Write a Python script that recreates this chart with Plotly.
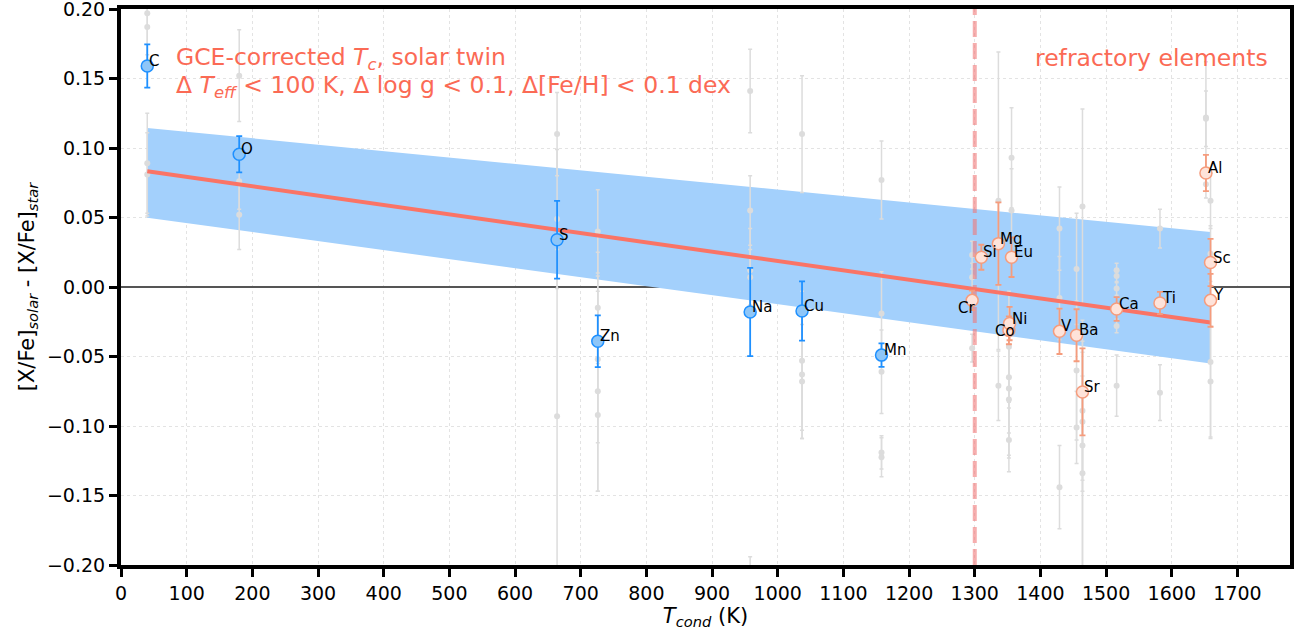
import plotly.graph_objects as go

# ---------------- data ----------------
volatile_el = ["C", "O", "S", "Zn", "Na", "Cu", "Mn"]
volatile_tc = [40, 180, 664, 726, 958, 1037, 1158]
volatile_val = [0.159, 0.0955, 0.034, -0.039, -0.018, -0.0173, -0.049]
volatile_err = [0.0155, 0.013, 0.028, 0.0186, 0.0317, 0.0213, 0.0085]

refr_el = ["Cr", "Si", "Mg", "Eu", "Co", "Ni", "V", "Ba", "Sr", "Ca", "Ti", "Al", "Sc", "Y"]
refr_tc = [1296, 1310, 1336, 1356, 1352, 1353, 1429, 1455, 1464, 1516, 1582, 1652, 1659, 1659]
refr_val = [-0.0096, 0.0214, 0.0312, 0.0214, -0.0312, -0.0263, -0.0319, -0.0347, -0.0755,
            -0.0158, -0.0115, 0.082, 0.0176, -0.0096]
refr_err = [0.007, 0.009, 0.0297, 0.0142, 0.010, 0.012, 0.0163, 0.0187, 0.0313,
            0.0085, 0.008, 0.013, 0.017, 0.019]

# other solar-twin comparison stars (grey background points)
gray_tc = [40, 40, 40, 40,
           180, 180, 180,
           664, 664, 664,
           726, 726, 726, 726, 726,
           958, 958, 958, 958, 958,
           1037, 1037, 1037, 1037,
           1158, 1158, 1158, 1158, 1158,
           1296, 1296, 1296,
           1336, 1336,
           1356, 1356,
           1352, 1352, 1352, 1352, 1352,
           1429, 1429, 1429,
           1455, 1455, 1455,
           1464, 1464, 1464, 1464, 1464,
           1516, 1516, 1516, 1516, 1516,
           1582, 1582,
           1652, 1652, 1652,
           1659, 1659, 1659, 1659]
gray_val = [0.197, 0.187, 0.089, 0.081,
            0.152, 0.076, 0.052,
            0.110, 0.049, -0.093,
            0.040, -0.015, -0.052, -0.075, -0.092,
            0.141, 0.055, 0.012, 0.007, -0.230,
            0.110, -0.053, -0.063, -0.068,
            0.077, -0.019, -0.061, -0.119, -0.1225,
            0.023, 0.007, -0.044,
            0.062, -0.071,
            0.093, 0.055,
            -0.043, -0.065, -0.073, -0.081, -0.110,
            0.042, -0.008, -0.144,
            0.013, -0.060, -0.101,
            0.058, -0.089, -0.097, -0.114, -0.134,
            0.012, 0.008, -0.001, -0.028, -0.071,
            0.042, -0.076,
            0.122, 0.121, 0.074,
            0.062, 0.024, -0.054, -0.068]
gray_err = [0.03, 0.03, 0.036, 0.03,
            0.033, 0.02, 0.025,
            0.03, 0.05, 0.12,
            0.03, 0.04, 0.06, 0.072, 0.055,
            0.03, 0.025, 0.03, 0.02, 0.036,
            0.042, 0.05, 0.046, 0.041,
            0.028, 0.03, 0.03, 0.012, 0.014,
            0.01, 0.01, 0.01,
            0.107, 0.025,
            0.036, 0.03,
            0.04, 0.04, 0.05, 0.04, 0.023,
            0.03, 0.03, 0.03,
            0.04, 0.05, 0.026,
            0.07, 0.05, 0.05, 0.09, 0.07,
            0.005, 0.005, 0.005, 0.005, 0.022,
            0.014, 0.02,
            0.04, 0.02, 0.01,
            0.02, 0.02, 0.055, 0.04]

# linear fit and its uncertainty band (end points)
fit_tc = [40, 1659]
fit_val = [0.0832, -0.0256]
band_upper = [0.1144, 0.0396]
band_lower = [0.0499, -0.0551]

refractory_threshold = 1300
x_range = [0, 1780]
y_range = [-0.2, 0.2]
x_ticks = list(range(0, 1800, 100))
y_ticks = [-0.20, -0.15, -0.10, -0.05, 0.00, 0.05, 0.10, 0.15, 0.20]

FONT = "DejaVu Sans"
TOMATO = "#fb6a55"
BLUE = "#1e90ff"
SALMON = "#f59c7d"

fig = go.Figure()

# uncertainty band
fig.add_trace(go.Scatter(
    x=fit_tc + fit_tc[::-1], y=band_upper + band_lower[::-1],
    fill="toself", fillcolor="rgb(163,208,252)", line=dict(width=0),
    mode="lines", hoverinfo="skip", showlegend=False))

# grey comparison points
fig.add_trace(go.Scatter(
    x=gray_tc, y=gray_val, mode="markers",
    marker=dict(size=6, color="#dcdcdc"),
    error_y=dict(type="data", array=gray_err, color="#dcdcdc", thickness=1.5, width=2),
    showlegend=False))

# refractory boundary
fig.add_trace(go.Scatter(
    x=[refractory_threshold, refractory_threshold], y=y_range, mode="lines",
    line=dict(color="rgba(240,120,120,0.6)", width=4, dash="16px,6px"),
    showlegend=False))

# fit line
fig.add_trace(go.Scatter(
    x=fit_tc, y=fit_val, mode="lines",
    line=dict(color="#fa7466", width=4), showlegend=False))

# volatile points
fig.add_trace(go.Scatter(
    x=volatile_tc, y=volatile_val, mode="markers",
    marker=dict(size=12, color="#8ec6f8", line=dict(color=BLUE, width=1.5)),
    error_y=dict(type="data", array=volatile_err, color=BLUE, thickness=1.8, width=3),
    showlegend=False))

# refractory points
fig.add_trace(go.Scatter(
    x=refr_tc, y=refr_val, mode="markers",
    marker=dict(size=12, color="#fee3da", line=dict(color=SALMON, width=1.5)),
    error_y=dict(type="data", array=refr_err, color=SALMON, thickness=1.8, width=3),
    showlegend=False))

annotations = []
special = {"Cr": ("right", 5, -8), "Co": ("right", 8, -1)}
for el, tc, v in list(zip(volatile_el, volatile_tc, volatile_val)) + list(zip(refr_el, refr_tc, refr_val)):
    xa, xs, ys = special.get(el, ("left", 0, 5))
    annotations.append(dict(x=tc, y=v, text=el, showarrow=False, xanchor=xa, yanchor="middle",
                            xshift=xs, yshift=ys, font=dict(family=FONT, size=15, color="black")))

annotations.append(dict(x=81, y=0.1645, xref="x", yref="y", showarrow=False, xanchor="left", yanchor="middle",
                        text="GCE-corrected <i>T</i><sub><i>c</i></sub>, solar twin",
                        font=dict(family=FONT, size=23.5, color=TOMATO)))
annotations.append(dict(x=81, y=0.1445, xref="x", yref="y", showarrow=False, xanchor="left", yanchor="middle",
                        text="Δ <i>T</i><sub><i>eff</i></sub> &lt; 100 K, Δ log g &lt; 0.1, Δ[Fe/H] &lt; 0.1 dex",
                        font=dict(family=FONT, size=23.5, color=TOMATO)))
annotations.append(dict(x=1750, y=0.1645, xref="x", yref="y", showarrow=False, xanchor="right", yanchor="middle",
                        text="refractory elements",
                        font=dict(family=FONT, size=23.5, color=TOMATO)))

axis_common = dict(showline=True, mirror=True, linecolor="black", linewidth=4,
                   ticks="outside", ticklen=8, tickwidth=3, tickcolor="black",
                   showgrid=True, gridcolor="#e3e3e3", gridwidth=1, griddash="dot",
                   automargin=False, ticklabeloverflow="allow",
                   tickfont=dict(family=FONT, size=19, color="black"))

fig.update_layout(
    width=1299, height=636,
    margin=dict(l=121, r=9, t=9, b=71),
    plot_bgcolor="white", paper_bgcolor="white",
    annotations=annotations,
    xaxis=dict(range=x_range, tickvals=x_ticks, zeroline=False,
               title=dict(text="<i>T</i><sub><i>cond</i></sub> (K)", font=dict(family=FONT, size=21, color="black"),
                          standoff=4),
               **axis_common),
    yaxis=dict(range=y_range, tickvals=y_ticks, tickformat=".2f",
               zeroline=True, zerolinecolor="#555555", zerolinewidth=1.5,
               title=dict(text="[X/Fe]<sub><i>solar</i></sub> - [X/Fe]<sub><i>star</i></sub>",
                          font=dict(family=FONT, size=21, color="black"), standoff=8),
               **axis_common),
)

fig.write_html("out.html", config={"displayModeBar": False},
               post_script="document.body.style.margin='0';document.body.style.overflow='hidden';")
